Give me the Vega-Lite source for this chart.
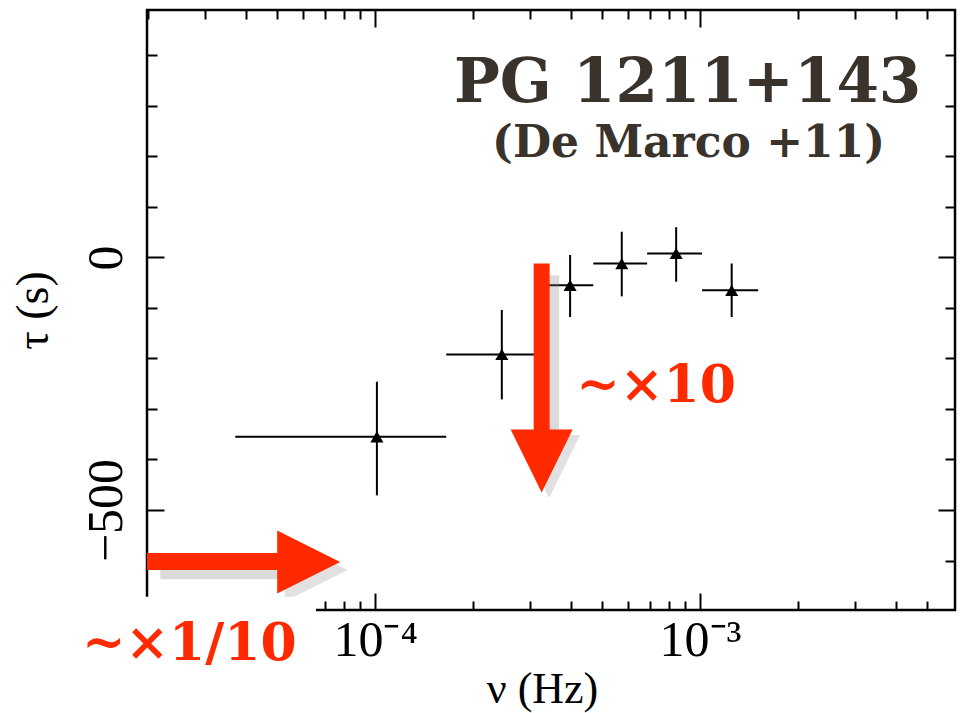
{
  "$schema": "https://vega.github.io/schema/vega-lite/v6.json",
  "width": 808,
  "height": 600,
  "autosize": {"type": "none"},
  "padding": {"left": 147, "top": 10, "right": 11, "bottom": 103},
  "background": "white",
  "config": {
    "view": {"stroke": "black", "strokeWidth": 2.5},
    "axis": {"grid": false, "domain": false, "tickColor": "black", "tickWidth": 2, "labelColor": "black", "titleColor": "black", "labelFont": "Liberation Serif", "titleFont": "Liberation Serif", "titleFontWeight": "normal"}
  },
  "datasets": {
    "pts": [
      {"nu": 1.012e-4, "lo": 3.71e-5, "hi": 1.654e-4, "tau": -355, "tlo": -471, "thi": -246},
      {"nu": 2.453e-4, "lo": 1.654e-4, "hi": 3.24e-4, "tau": -192, "tlo": -281, "thi": -104},
      {"nu": 3.98e-4, "lo": 3.24e-4, "hi": 4.69e-4, "tau": -55, "tlo": -118, "thi": 5},
      {"nu": 5.74e-4, "lo": 4.69e-4, "hi": 6.87e-4, "tau": -12, "tlo": -77, "thi": 51},
      {"nu": 8.44e-4, "lo": 6.87e-4, "hi": 1.014e-3, "tau": 8, "tlo": -48, "thi": 60},
      {"nu": 1.251e-3, "lo": 1.014e-3, "hi": 1.509e-3, "tau": -65, "tlo": -118, "thi": -12}
    ]
  },
  "layer": [
    {
      "mark": {"type": "rule", "color": "black", "strokeWidth": 2},
      "encoding": {
        "y": {"datum": 0, "type": "quantitative", "scale": {"type": "linear", "domain": [-698, 490], "nice": false, "zero": false}, "axis": null}
      }
    },
    {
      "data": {"name": "pts"},
      "mark": {"type": "rule", "color": "black", "strokeWidth": 2},
      "encoding": {
        "x": {"field": "lo", "type": "quantitative", "scale": {"type": "log", "domain": [1.984e-5, 6.09e-3], "nice": false},
          "axis": {"orient": "bottom", "values": [2e-5, 3e-5, 4e-5, 5e-5, 6e-5, 7e-5, 8e-5, 9e-5, 1e-4, 2e-4, 3e-4, 4e-4, 5e-4, 6e-4, 7e-4, 8e-4, 9e-4, 1e-3, 2e-3, 3e-3, 4e-3, 5e-3],
            "labelExpr": "abs(log(datum.value)/LN10 + 4) < 0.01 ? '10⁻⁴' : (abs(log(datum.value)/LN10 + 3) < 0.01 ? '10⁻³' : '')",
            "tickSize": {"condition": {"test": "abs(log(datum.value)/LN10 - round(log(datum.value)/LN10)) < 0.001", "value": -17}, "value": -9},
            "labelFont": "Liberation Serif", "labelFontSize": 50, "labelPadding": 22, "labelOverlap": false, "labelFlush": false,
            "title": "ν (Hz)", "titleFontSize": 44, "titlePadding": -6, "titleX": 395}},
        "x2": {"field": "hi"},
        "y": {"field": "tau", "type": "quantitative", "scale": {"type": "linear", "domain": [-698, 490], "nice": false, "zero": false},
          "axis": {"orient": "left", "values": [-600, -500, -400, -300, -200, -100, 0, 100, 200, 300, 400],
            "labelExpr": "datum.value == 0 ? '0' : (datum.value == -500 ? '−500' : '')",
            "tickSize": {"condition": {"test": "datum.value == 0 || datum.value == -500", "value": -17}, "value": -10},
            "labelAngle": 270, "labelFont": "Liberation Serif", "labelFontSize": 50, "labelPadding": 33, "labelOverlap": false, "labelFlush": false,
            "title": "τ (s)", "titleFontSize": 46, "titlePadding": 17}}
      }
    },
    {
      "data": {"name": "pts"},
      "mark": {"type": "rule", "color": "black", "strokeWidth": 2},
      "encoding": {
        "x": {"field": "nu", "type": "quantitative", "scale": {"type": "log", "domain": [1.984e-5, 6.09e-3], "nice": false},
          "axis": {"orient": "top", "values": [2e-5, 3e-5, 4e-5, 5e-5, 6e-5, 7e-5, 8e-5, 9e-5, 1e-4, 2e-4, 3e-4, 4e-4, 5e-4, 6e-4, 7e-4, 8e-4, 9e-4, 1e-3, 2e-3, 3e-3, 4e-3, 5e-3],
            "labels": false, "title": null,
            "tickSize": {"condition": {"test": "abs(log(datum.value)/LN10 - round(log(datum.value)/LN10)) < 0.001", "value": -17}, "value": -9}}},
        "y": {"field": "tlo", "type": "quantitative", "scale": {"type": "linear", "domain": [-698, 490], "nice": false, "zero": false},
          "axis": {"orient": "right", "values": [-600, -500, -400, -300, -200, -100, 0, 100, 200, 300, 400], "labels": false, "title": null,
            "tickSize": {"condition": {"test": "datum.value == 0 || datum.value == -500", "value": -17}, "value": -10}}},
        "y2": {"field": "thi"}
      }
    },
    {
      "data": {"name": "pts"},
      "mark": {"type": "point", "shape": "triangle-up", "filled": true, "color": "black", "opacity": 1, "size": 170},
      "encoding": {
        "x": {"field": "nu", "type": "quantitative", "scale": {"type": "log", "domain": [1.984e-5, 6.09e-3], "nice": false}, "axis": null},
        "y": {"field": "tau", "type": "quantitative", "scale": {"type": "linear", "domain": [-698, 490], "nice": false, "zero": false}, "axis": null}
      }
    },
    {
      "data": {"values": [{"x": 3.529e-4, "y": -35, "y2": -361}]},
      "mark": {"type": "rule", "color": "#888888", "opacity": 0.3, "strokeWidth": 12, "clip": false},
      "encoding": {
        "x": {"field": "x", "type": "quantitative", "scale": {"type": "log", "domain": [1.984e-5, 6.09e-3], "nice": false}, "axis": null},
        "y": {"field": "y", "type": "quantitative", "scale": {"type": "linear", "domain": [-698, 490], "nice": false, "zero": false}, "axis": null},
        "y2": {"field": "y2"}
      }
    },
    {
      "data": {"values": [{"x": 2.18e-5, "x2": 5.475e-5, "y": -625}]},
      "mark": {"type": "rule", "color": "#888888", "opacity": 0.3, "strokeWidth": 12, "clip": false},
      "encoding": {
        "x": {"field": "x", "type": "quantitative", "scale": {"type": "log", "domain": [1.984e-5, 6.09e-3], "nice": false}, "axis": null},
        "x2": {"field": "x2"},
        "y": {"field": "y", "type": "quantitative", "scale": {"type": "linear", "domain": [-698, 490], "nice": false, "zero": false}, "axis": null}
      }
    },
    {
      "data": {"values": [{"x": 3.43e-4, "y": -413}]},
      "mark": {"type": "point", "shape": "M -1 -1 L 1 -1 L 0 1.03 Z", "filled": true, "color": "#888888", "opacity": 0.25, "size": 3844, "clip": false},
      "encoding": {
        "x": {"field": "x", "type": "quantitative", "scale": {"type": "log", "domain": [1.984e-5, 6.09e-3], "nice": false}, "axis": null},
        "y": {"field": "y", "type": "quantitative", "scale": {"type": "linear", "domain": [-698, 490], "nice": false, "zero": false}, "axis": null}
      }
    },
    {
      "data": {"values": [{"x": 6.58e-5, "y": -619}]},
      "mark": {"type": "point", "shape": "M -1 -1 L 1 0 L -1 1 Z", "filled": true, "color": "#888888", "opacity": 0.25, "size": 3969, "clip": false},
      "encoding": {
        "x": {"field": "x", "type": "quantitative", "scale": {"type": "log", "domain": [1.984e-5, 6.09e-3], "nice": false}, "axis": null},
        "y": {"field": "y", "type": "quantitative", "scale": {"type": "linear", "domain": [-698, 490], "nice": false, "zero": false}, "axis": null}
      }
    },
    {
      "data": {"values": [{"x": 7.0e-6, "x2": 6.57e-5, "y": -672, "y2": -905}]},
      "mark": {"type": "rect", "color": "white", "opacity": 1, "clip": false},
      "encoding": {
        "x": {"field": "x", "type": "quantitative", "scale": {"type": "log", "domain": [1.984e-5, 6.09e-3], "nice": false}, "axis": null},
        "x2": {"field": "x2"},
        "y": {"field": "y", "type": "quantitative", "scale": {"type": "linear", "domain": [-698, 490], "nice": false, "zero": false}, "axis": null},
        "y2": {"field": "y2"}
      }
    },
    {
      "data": {"values": [{"x": 3.253e-4, "y": -12, "y2": -350}]},
      "mark": {"type": "rule", "color": "#ff2a00", "strokeWidth": 16, "strokeCap": "butt", "clip": false},
      "encoding": {
        "x": {"field": "x", "type": "quantitative", "scale": {"type": "log", "domain": [1.984e-5, 6.09e-3], "nice": false}, "axis": null},
        "y": {"field": "y", "type": "quantitative", "scale": {"type": "linear", "domain": [-698, 490], "nice": false, "zero": false}, "axis": null},
        "y2": {"field": "y2"}
      }
    },
    {
      "data": {"values": [{"x": 1.984e-5, "x2": 5.284e-5, "y": -602}]},
      "mark": {"type": "rule", "color": "#ff2a00", "strokeWidth": 17, "strokeCap": "butt", "clip": false},
      "encoding": {
        "x": {"field": "x", "type": "quantitative", "scale": {"type": "log", "domain": [1.984e-5, 6.09e-3], "nice": false}, "axis": null},
        "x2": {"field": "x2"},
        "y": {"field": "y", "type": "quantitative", "scale": {"type": "linear", "domain": [-698, 490], "nice": false, "zero": false}, "axis": null}
      }
    },
    {
      "data": {"values": [{"x": 3.253e-4, "y": -402}]},
      "mark": {"type": "point", "shape": "M -1 -1 L 1 -1 L 0 1.03 Z", "filled": true, "color": "#ff2a00", "opacity": 1, "size": 3844, "clip": false},
      "encoding": {
        "x": {"field": "x", "type": "quantitative", "scale": {"type": "log", "domain": [1.984e-5, 6.09e-3], "nice": false}, "axis": null},
        "y": {"field": "y", "type": "quantitative", "scale": {"type": "linear", "domain": [-698, 490], "nice": false, "zero": false}, "axis": null}
      }
    },
    {
      "data": {"values": [{"x": 6.24e-5, "y": -603}]},
      "mark": {"type": "point", "shape": "M -1 -1 L 1 0 L -1 1 Z", "filled": true, "color": "#ff2a00", "opacity": 1, "size": 3969, "clip": false},
      "encoding": {
        "x": {"field": "x", "type": "quantitative", "scale": {"type": "log", "domain": [1.984e-5, 6.09e-3], "nice": false}, "axis": null},
        "y": {"field": "y", "type": "quantitative", "scale": {"type": "linear", "domain": [-698, 490], "nice": false, "zero": false}, "axis": null}
      }
    },
    {
      "data": {"values": [{"x": 7.32e-4, "y": -286, "t": "~×10"}, {"x": 2.677e-5, "y": -797, "t": "~×1/10"}]},
      "mark": {"type": "text", "color": "#ff2a00", "font": "DejaVu Serif", "fontWeight": "bold", "fontSize": 52, "align": "center", "baseline": "alphabetic", "clip": false},
      "encoding": {
        "x": {"field": "x", "type": "quantitative", "scale": {"type": "log", "domain": [1.984e-5, 6.09e-3], "nice": false}, "axis": null},
        "y": {"field": "y", "type": "quantitative", "scale": {"type": "linear", "domain": [-698, 490], "nice": false, "zero": false}, "axis": null},
        "text": {"field": "t"}
      }
    },
    {
      "data": {"values": [{"x": 9.152e-4, "y": 308, "t": "PG 1211+143", "s": 61}, {"x": 9.22e-4, "y": 199, "t": "(De Marco +11)", "s": 44}]},
      "mark": {"type": "text", "color": "#3a332b", "font": "DejaVu Serif", "fontWeight": "bold", "align": "center", "baseline": "alphabetic", "clip": false},
      "encoding": {
        "x": {"field": "x", "type": "quantitative", "scale": {"type": "log", "domain": [1.984e-5, 6.09e-3], "nice": false}, "axis": null},
        "y": {"field": "y", "type": "quantitative", "scale": {"type": "linear", "domain": [-698, 490], "nice": false, "zero": false}, "axis": null},
        "text": {"field": "t"},
        "size": {"field": "s", "type": "quantitative", "scale": null}
      }
    }
  ],
  "resolve": {"axis": {"x": "independent", "y": "independent"}}
}
